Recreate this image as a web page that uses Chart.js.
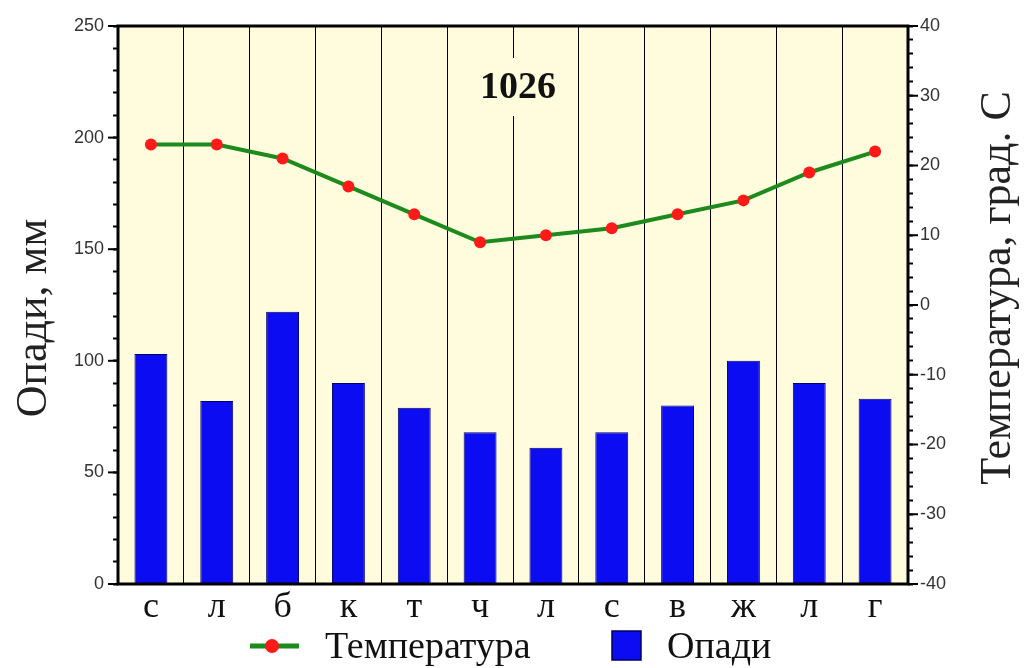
<!DOCTYPE html>
<html>
<head>
<meta charset="utf-8">
<script src="https://cdn.jsdelivr.net/npm/chart.js@4.4.1/dist/chart.umd.min.js"></script>
<style>
  html, body { margin: 0; padding: 0; background: #fff; }
  #wrap { width: 1027px; height: 668px; }
</style>
</head>
<body>
<div id="wrap"><canvas id="chart"></canvas></div>
<script>
// Дані кліматограми
const months = ['с', 'л', 'б', 'к', 'т', 'ч', 'л', 'с', 'в', 'ж', 'л', 'г'];
const precipitation = [103, 82, 122, 90, 79, 68, 61, 68, 80, 100, 90, 83];
const temperature = [23, 23, 21, 17, 13, 9, 10, 11, 13, 15, 19, 22];
const precipTicks = [0, 50, 100, 150, 200, 250];
const tempTicks = [-40, -30, -20, -10, 0, 10, 20, 30, 40];
const stationName = '1026';

const SERIF = '"Liberation Serif", "DejaVu Serif", serif';
const SANS = '"Liberation Sans", Arial, sans-serif';
const BG = '#fefcdc';
const GREEN = '#1d8a1d';
const RED = '#ff1a1a';
const BLUE = '#0c0cf2';

// Фон, рамка, великі поділки, заголовки осей, легенда
const decor = {
    id: 'decor',
    beforeDraw(chart) {
        const a = chart.chartArea;
        const ctx = chart.ctx;
        ctx.save();
        ctx.fillStyle = BG;
        ctx.fillRect(a.left, a.top, a.right - a.left, a.bottom - a.top);
        ctx.restore();
    },
    afterDraw(chart) {
        const a = chart.chartArea;
        const ctx = chart.ctx;
        const yL = chart.scales.y;
        const yR = chart.scales.y2;
        ctx.save();

        // великі поділки
        ctx.strokeStyle = '#000';
        ctx.lineWidth = 2;
        precipTicks.forEach(v => {
            const y = yL.getPixelForValue(v);
            ctx.beginPath(); ctx.moveTo(a.left - 10, y); ctx.lineTo(a.left, y); ctx.stroke();
        });
        tempTicks.forEach(v => {
            const y = yR.getPixelForValue(v);
            ctx.beginPath(); ctx.moveTo(a.right, y); ctx.lineTo(a.right + 10, y); ctx.stroke();
        });

        // рамка
        ctx.lineWidth = 3;
        ctx.strokeRect(a.left, a.top, a.right - a.left, a.bottom - a.top);

        // назва станції
        ctx.font = 'bold 38px ' + SERIF;
        ctx.textAlign = 'center';
        ctx.textBaseline = 'middle';
        const cx = 518;
        const tw = ctx.measureText(stationName).width;
        ctx.fillStyle = BG;
        ctx.fillRect(cx - tw / 2 - 4, 58, tw + 8, 58);
        ctx.fillStyle = '#111';
        ctx.fillText(stationName, cx, 88);

        // заголовки осей
        ctx.font = '44px ' + SERIF;
        ctx.fillStyle = '#222';
        ctx.save();
        ctx.translate(34, 318);
        ctx.rotate(-Math.PI / 2);
        ctx.fillText('Опади, мм', 0, 0);
        ctx.restore();
        ctx.save();
        ctx.translate(998, 288);
        ctx.rotate(-Math.PI / 2);
        ctx.fillText('Температура, град. С', 0, 0);
        ctx.restore();

        // легенда
        const ly = 646;
        ctx.strokeStyle = GREEN;
        ctx.lineWidth = 5;
        ctx.beginPath(); ctx.moveTo(250, ly); ctx.lineTo(299, ly); ctx.stroke();
        ctx.fillStyle = RED;
        ctx.beginPath(); ctx.arc(272, ly, 7, 0, Math.PI * 2); ctx.fill();
        ctx.font = '38px ' + SERIF;
        ctx.fillStyle = '#111';
        ctx.textAlign = 'left';
        ctx.textBaseline = 'alphabetic';
        ctx.fillText('Температура', 325, 658);
        ctx.fillStyle = BLUE;
        ctx.strokeStyle = '#000060';
        ctx.lineWidth = 1.5;
        ctx.fillRect(612, 631, 29, 29);
        ctx.strokeRect(612, 631, 29, 29);
        ctx.fillStyle = '#111';
        ctx.fillText('Опади', 667, 658);

        ctx.restore();
    }
};

const ctx = document.getElementById('chart').getContext('2d');
new Chart(ctx, {
    type: 'bar',
    data: {
        labels: months,
        datasets: [
            {
                type: 'line',
                label: 'Температура',
                data: temperature,
                yAxisID: 'y2',
                borderColor: GREEN,
                borderWidth: 4,
                pointBackgroundColor: RED,
                pointBorderWidth: 0,
                pointRadius: 6,
                tension: 0,
                order: 0
            },
            {
                type: 'bar',
                label: 'Опади',
                data: precipitation,
                yAxisID: 'y',
                backgroundColor: BLUE,
                borderColor: '#00006a',
                borderWidth: 1,
                categoryPercentage: 1,
                barPercentage: 0.5,
                order: 1
            }
        ]
    },
    options: {
        responsive: true,
        maintainAspectRatio: false,
        animation: false,
        layout: { padding: { top: 26, left: 0, right: 0, bottom: 0 } },
        plugins: {
            legend: { display: false },
            tooltip: { enabled: false }
        },
        scales: {
            x: {
                offset: true,
                border: { display: false },
                grid: { color: '#000', lineWidth: 1, drawTicks: false, tickLength: 0 },
                ticks: { font: { family: SERIF, size: 36 }, color: '#111', padding: 2 },
                afterFit(scale) { scale.height = 84; }
            },
            y: {
                position: 'left',
                min: 0,
                max: 250,
                border: { display: false },
                grid: { drawOnChartArea: false, drawTicks: true, tickLength: 5, tickWidth: 2, tickColor: '#000' },
                ticks: {
                    stepSize: 10,
                    maxTicksLimit: 100,
                    autoSkip: false,
                    padding: 9,
                    font: { family: SANS, size: 18 },
                    color: '#333',
                    callback: v => precipTicks.includes(v) ? v : ''
                },
                afterFit(scale) { scale.width = 118; }
            },
            y2: {
                position: 'right',
                min: -40,
                max: 40,
                border: { display: false },
                grid: { drawOnChartArea: false, drawTicks: true, tickLength: 5, tickWidth: 2, tickColor: '#000' },
                ticks: {
                    stepSize: 2,
                    maxTicksLimit: 100,
                    autoSkip: false,
                    padding: 7,
                    font: { family: SANS, size: 18 },
                    color: '#333',
                    callback: v => tempTicks.includes(v) ? v : ''
                },
                afterFit(scale) { scale.width = 119; }
            }
        }
    },
    plugins: [decor]
});
</script>
</body>
</html>
